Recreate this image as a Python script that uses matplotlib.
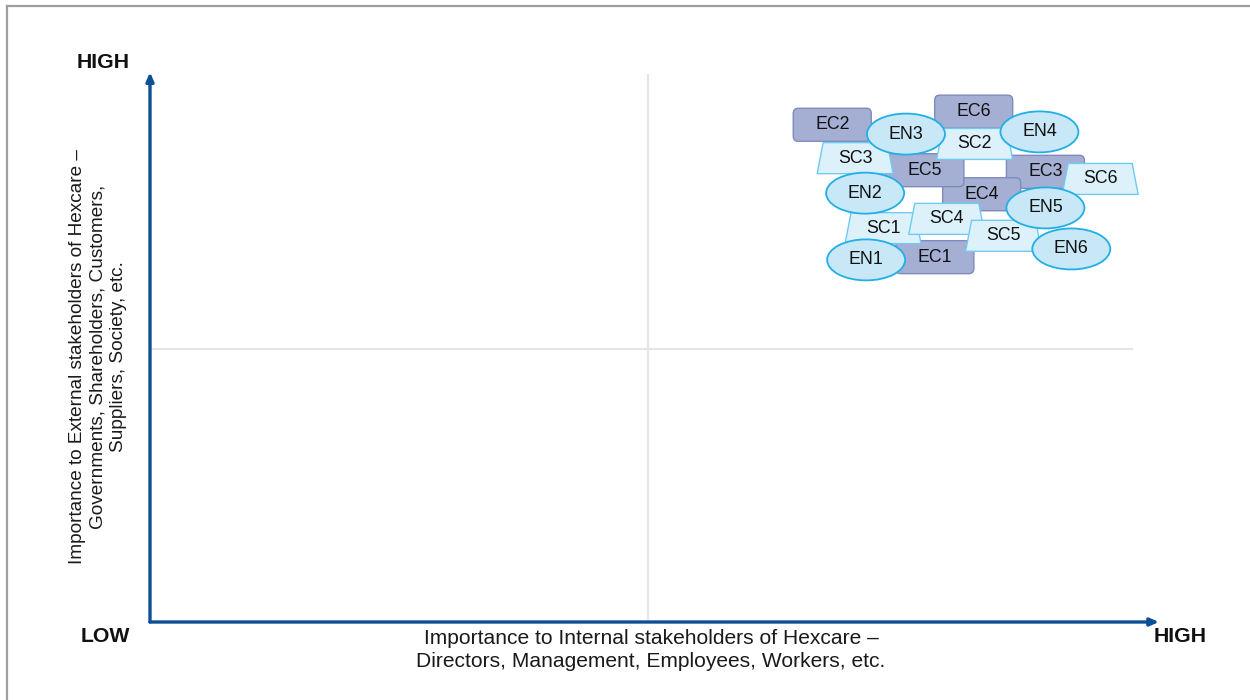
import matplotlib
matplotlib.use("Agg")
import matplotlib.pyplot as plt
from matplotlib.patches import FancyBboxPatch, Ellipse, Polygon
from matplotlib.lines import Line2D

plt.rcParams['font.family'] = ['Liberation Sans', 'DejaVu Sans']

# ---- data ----
ec_labels = ["EC1", "EC2", "EC3", "EC4", "EC5", "EC6"]
ec_x = [7.88, 6.85, 8.99, 8.35, 7.78, 8.27]
ec_y = [6.67, 9.09, 8.23, 7.82, 8.26, 9.33]

sc_labels = ["SC1", "SC2", "SC3", "SC4", "SC5", "SC6"]
sc_x = [7.36, 8.28, 7.08, 8.00, 8.57, 9.54]
sc_y = [7.20, 8.74, 8.48, 7.37, 7.06, 8.10]

en_labels = ["EN1", "EN2", "EN3", "EN4", "EN5", "EN6"]
en_x = [7.19, 7.18, 7.59, 8.93, 8.99, 9.25]
en_y = [6.62, 7.84, 8.92, 8.96, 7.57, 6.82]

x_label = "Importance to Internal stakeholders of Hexcare –\nDirectors, Management, Employees, Workers, etc."
y_label = "Importance to External stakeholders of Hexcare –\nGovernments, Shareholders, Customers,\nSuppliers, Society, etc."

# ---- figure ----
W, H = 1250, 700
fig = plt.figure(figsize=(12.5, 7), dpi=100)
ax = fig.add_axes([150 / W, 78 / H, 996 / W, 547 / H])
ax.set_xlim(0, 10)
ax.set_ylim(0, 10)
ax.axis('off')

px_x = 10 / 996.0   # data units per pixel x
px_y = 10 / 547.0   # data units per pixel y
aspect = px_y / px_x

# grid / quadrant lines
ax.plot([5, 5], [0, 10], color='#e6e6e6', lw=1.6, zorder=1, clip_on=False)
ax.plot([0, 9.86], [5, 5], color='#e6e6e6', lw=1.6, zorder=1, clip_on=False)

# axis arrows
axis_col = '#0b4f96'
ax.annotate('', xy=(10.13, 0), xytext=(0, 0),
            arrowprops=dict(arrowstyle='-|>,head_length=0.5,head_width=0.22',
                            color=axis_col, lw=2.4, shrinkA=0, shrinkB=0),
            annotation_clip=False, zorder=3)
ax.annotate('', xy=(0, 10.05), xytext=(0, 0),
            arrowprops=dict(arrowstyle='-|>,head_length=0.5,head_width=0.22',
                            color=axis_col, lw=2.4, shrinkA=0, shrinkB=0),
            annotation_clip=False, zorder=3)

fs = 12.8

# EC rounded rectangles
ec_w, ec_h = 78 * px_x, 33 * px_y
for lab, x, y in zip(ec_labels, ec_x, ec_y):
    p = FancyBboxPatch((x - ec_w / 2, y - ec_h / 2), ec_w, ec_h,
                       boxstyle="round,pad=0,rounding_size=0.05",
                       mutation_aspect=aspect,
                       facecolor='#a5afd3', edgecolor='#7f8bbd', lw=1.0, zorder=4)
    ax.add_patch(p)
    ax.text(x, y, lab, ha='center', va='center', fontsize=fs, color='#111111', zorder=5)

# SC trapezoids
sc_wb, sc_wt, sc_h = 76 * px_x, 64 * px_x, 31 * px_y
for lab, x, y in zip(sc_labels, sc_x, sc_y):
    pts = [(x - sc_wb / 2, y - sc_h / 2), (x + sc_wb / 2, y - sc_h / 2),
           (x + sc_wt / 2, y + sc_h / 2), (x - sc_wt / 2, y + sc_h / 2)]
    p = Polygon(pts, closed=True, facecolor='#ddf1fb', edgecolor='#6fcbf1',
                lw=1.0, joinstyle='round', zorder=6)
    ax.add_patch(p)
    ax.text(x, y, lab, ha='center', va='center', fontsize=fs, color='#111111', zorder=7)

# EN ellipses
en_w, en_h = 78 * px_x, 41 * px_y
for lab, x, y in zip(en_labels, en_x, en_y):
    p = Ellipse((x, y), en_w, en_h, facecolor='#c8e7f7', edgecolor='#22afe6',
                lw=1.3, zorder=8)
    ax.add_patch(p)
    ax.text(x, y, lab, ha='center', va='center', fontsize=fs, color='#111111', zorder=9)

# axis text
fig.text(103 / W, 1 - 62 / H, "HIGH", ha='center', va='center', fontsize=15.3,
         fontweight='bold', color='#111111')
fig.text(105 / W, 1 - 637 / H, "LOW", ha='center', va='center', fontsize=15.3,
         fontweight='bold', color='#111111')
fig.text(1180 / W, 1 - 637 / H, "HIGH", ha='center', va='center', fontsize=15.3,
         fontweight='bold', color='#111111')
fig.text(651 / W, 1 - 650 / H, x_label, ha='center', va='center', fontsize=15.1,
         color='#1a1a1a', linespacing=1.26)
fig.text(98 / W, 1 - 357 / H, y_label, ha='center', va='center', fontsize=13.7,
         color='#1a1a1a', rotation=90, linespacing=1.3, multialignment='center')

# outer frame (gray)
fig.add_artist(Line2D([7 / W, 7 / W], [0, 1 - 6 / H], color='#9e9e9e', lw=1.6,
                      transform=fig.transFigure))
fig.add_artist(Line2D([7 / W, 1], [1 - 6 / H, 1 - 6 / H], color='#9e9e9e', lw=1.6,
                      transform=fig.transFigure))

fig.savefig("out.png", dpi=100)
